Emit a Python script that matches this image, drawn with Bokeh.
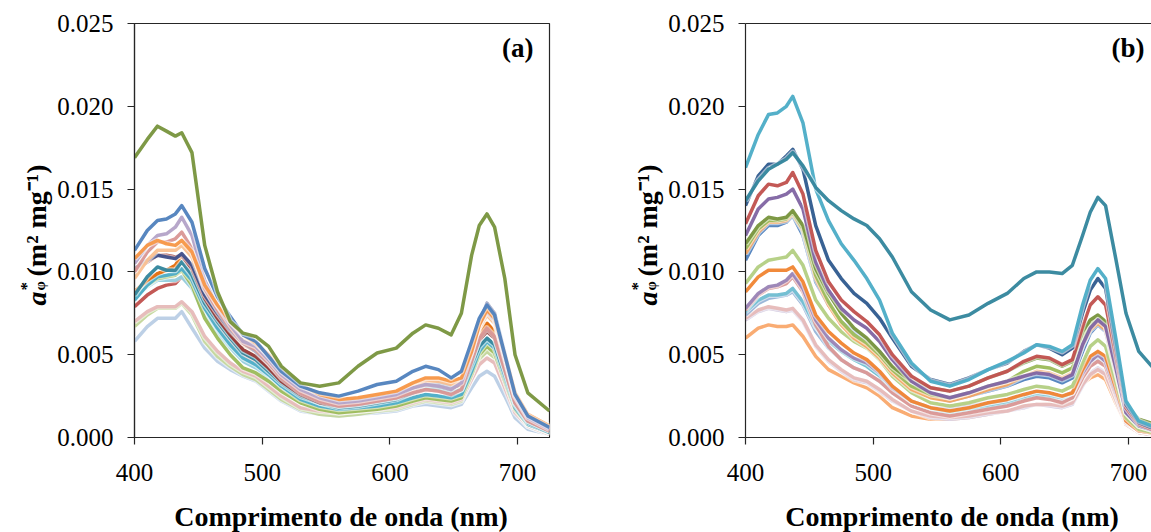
from math import pi
from bokeh.plotting import figure
from bokeh.layouts import row, column
from bokeh.models import Range1d, FixedTicker, PrintfTickFormatter, Label, LinearAxis
from bokeh.embed import file_html
from bokeh.resources import INLINE

# ---------------- data ----------------
wavelength = [400, 410, 418, 425, 432, 437, 445, 455, 465, 475, 485, 495, 505, 515, 530, 545,
              560, 575, 590, 605, 618, 628, 638, 648, 656, 664, 670, 676, 682, 690, 698, 708, 725]

x_ticks = [400, 500, 600, 700]
y_ticks = [0.0, 0.005, 0.010, 0.015, 0.020, 0.025]

# panel (a)
a_lavender = [.0058, .0067, .0072, .0072, .0072, .0076, .0066, .0054, .0046, .0041, .0037, .0034, .0028, .0022, .0016, .0014,
              .0013, .0014, .0015, .0016, .0019, .0020, .0019, .0018, .0020, .0030, .0037, .0040, .0037, .0025, .0012, .0005, .0002]
a_palegreen = [.0067, .0074, .0078, .0078, .0078, .0081, .0074, .0058, .0049, .0043, .0038, .0035, .0029, .0023, .0017, .0014,
               .0013, .0014, .0016, .0017, .0020, .0022, .0021, .0020, .0022, .0036, .0047, .0052, .0048, .0032, .0016, .0007, .0002]
a_pink = [.0070, .0076, .0079, .0079, .0079, .0082, .0076, .0061, .0052, .0045, .0040, .0037, .0031, .0025, .0018, .0016,
          .0015, .0016, .0017, .0018, .0021, .0023, .0022, .0021, .0023, .0035, .0044, .0048, .0045, .0030, .0015, .0007, .0002]
a_red = [.0079, .0086, .0090, .0092, .0093, .0097, .0091, .0077, .0067, .0058, .0050, .0046, .0039, .0032, .0024, .0020,
         .0017, .0018, .0020, .0022, .0026, .0029, .0028, .0026, .0028, .0044, .0058, .0065, .0060, .0040, .0020, .0009, .0004]
a_lightblue = [.0085, .0091, .0095, .0095, .0095, .0097, .0090, .0074, .0063, .0054, .0046, .0042, .0036, .0029, .0022, .0018,
               .0016, .0017, .0018, .0020, .0023, .0025, .0024, .0023, .0025, .0039, .0051, .0057, .0053, .0035, .0018, .0008, .0003]
a_green = [.0085, .0092, .0096, .0097, .0098, .0101, .0092, .0072, .0060, .0050, .0042, .0039, .0034, .0028, .0021, .0017,
           .0015, .0016, .0017, .0019, .0022, .0024, .0023, .0022, .0024, .0038, .0050, .0055, .0051, .0034, .0017, .0008, .0003]
a_aqua = [.0083, .0092, .0097, .0098, .0099, .0102, .0095, .0078, .0066, .0056, .0048, .0044, .0038, .0031, .0023, .0019,
          .0017, .0018, .0019, .0021, .0024, .0026, .0025, .0024, .0026, .0040, .0052, .0058, .0054, .0036, .0018, .0008, .0003]
a_darkorange = [.0088, .0095, .0099, .0101, .0104, .0110, .0103, .0086, .0074, .0064, .0056, .0052, .0045, .0037, .0028, .0023,
                .0020, .0021, .0023, .0025, .0029, .0032, .0031, .0029, .0031, .0047, .0061, .0069, .0064, .0044, .0023, .0011, .0005]
a_teal = [.0086, .0097, .0103, .0101, .0101, .0106, .0098, .0081, .0070, .0060, .0051, .0047, .0040, .0033, .0025, .0021,
          .0018, .0019, .0021, .0023, .0027, .0030, .0029, .0027, .0029, .0044, .0055, .0060, .0056, .0038, .0020, .0009, .0003]
a_darkred = [.0101, .0106, .0110, .0110, .0109, .0110, .0102, .0084, .0072, .0062, .0053, .0049, .0042, .0034, .0026, .0021,
             .0019, .0020, .0022, .0024, .0029, .0032, .0032, .0030, .0032, .0047, .0059, .0064, .0060, .0041, .0021, .0010, .0004]
a_navy = [.0102, .0107, .0110, .0109, .0108, .0111, .0104, .0086, .0075, .0065, .0057, .0052, .0045, .0037, .0028, .0023,
          .0020, .0021, .0023, .0025, .0030, .0033, .0033, .0031, .0034, .0052, .0070, .0081, .0075, .0051, .0027, .0013, .0006]
a_peach = [.0096, .0107, .0113, .0113, .0113, .0116, .0109, .0090, .0078, .0068, .0059, .0055, .0048, .0040, .0030, .0025,
           .0022, .0023, .0025, .0027, .0031, .0034, .0034, .0032, .0034, .0050, .0066, .0074, .0069, .0048, .0026, .0013, .0006]
a_rose = [.0100, .0112, .0118, .0118, .0120, .0124, .0114, .0090, .0077, .0066, .0057, .0053, .0045, .0036, .0027, .0022,
          .0019, .0020, .0022, .0024, .0027, .0029, .0028, .0026, .0029, .0046, .0060, .0066, .0061, .0041, .0021, .0010, .0004]
a_purple = [.0105, .0116, .0122, .0123, .0127, .0133, .0122, .0095, .0080, .0068, .0058, .0055, .0047, .0038, .0029, .0024,
            .0021, .0022, .0024, .0026, .0030, .0032, .0031, .0029, .0033, .0052, .0068, .0076, .0071, .0048, .0025, .0012, .0005]
a_orange = [.0108, .0116, .0119, .0117, .0116, .0119, .0112, .0092, .0080, .0070, .0062, .0057, .0050, .0042, .0032, .0026,
            .0023, .0024, .0026, .0028, .0033, .0036, .0036, .0034, .0036, .0052, .0068, .0077, .0072, .0050, .0027, .0014, .0007]
a_blue = [.0113, .0125, .0131, .0132, .0135, .0140, .0130, .0102, .0085, .0073, .0062, .0058, .0049, .0040, .0031, .0027,
          .0025, .0028, .0032, .0034, .0040, .0043, .0041, .0036, .0040, .0058, .0072, .0080, .0074, .0050, .0026, .0013, .0006]
a_olive = [.0169, .0180, .0188, .0185, .0182, .0184, .0172, .0116, .0088, .0070, .0063, .0061, .0055, .0043, .0033, .0031,
           .0033, .0043, .0051, .0054, .0063, .0068, .0066, .0062, .0075, .0110, .0128, .0135, .0127, .0096, .0050, .0027, .0016]

# panel (b)
b_lightorange = [.0060, .0066, .0068, .0067, .0067, .0068, .0061, .0049, .0041, .0037, .0033, .0030, .0025, .0018, .0013, .0011,
                 .0011, .0012, .0014, .0016, .0019, .0020, .0020, .0019, .0022, .0032, .0036, .0038, .0035, .0021, .0008, .0003, .0001]
b_lavender = [.0071, .0076, .0078, .0077, .0076, .0077, .0070, .0055, .0046, .0040, .0035, .0033, .0028, .0022, .0016, .0012,
              .0011, .0012, .0014, .0016, .0018, .0020, .0019, .0018, .0020, .0031, .0039, .0042, .0039, .0023, .0008, .0003, .0001]
b_pink = [.0072, .0077, .0079, .0078, .0077, .0078, .0071, .0056, .0047, .0041, .0036, .0034, .0029, .0023, .0016, .0013,
          .0012, .0013, .0015, .0016, .0019, .0020, .0020, .0019, .0021, .0032, .0038, .0041, .0038, .0023, .0008, .0003, .0001]
b_steel = [.0074, .0081, .0084, .0085, .0086, .0088, .0080, .0064, .0054, .0047, .0042, .0039, .0034, .0027, .0020, .0016,
           .0015, .0016, .0018, .0020, .0023, .0025, .0024, .0022, .0024, .0037, .0045, .0048, .0045, .0027, .0009, .0004, .0002]
b_lightblue = [.0076, .0083, .0086, .0086, .0087, .0090, .0082, .0067, .0058, .0052, .0047, .0043, .0037, .0029, .0021, .0017,
               .0015, .0017, .0019, .0021, .0024, .0026, .0025, .0024, .0026, .0040, .0047, .0051, .0047, .0029, .0010, .0004, .0002]
b_rose = [.0077, .0086, .0090, .0091, .0093, .0097, .0088, .0068, .0055, .0047, .0042, .0039, .0034, .0027, .0019, .0015,
          .0013, .0015, .0017, .0019, .0022, .0024, .0023, .0021, .0024, .0036, .0043, .0046, .0043, .0026, .0009, .0004, .0002]
b_lightpurple = [.0078, .0087, .0091, .0092, .0095, .0099, .0090, .0071, .0060, .0053, .0048, .0045, .0039, .0030, .0022, .0018,
                 .0017, .0019, .0021, .0023, .0026, .0028, .0027, .0025, .0027, .0039, .0046, .0050, .0046, .0028, .0010, .0004, .0002]
b_orange = [.0088, .0097, .0101, .0101, .0101, .0103, .0094, .0074, .0064, .0057, .0051, .0047, .0040, .0031, .0022, .0018,
            .0016, .0018, .0021, .0023, .0026, .0028, .0027, .0025, .0027, .0041, .0049, .0052, .0049, .0030, .0010, .0004, .0002]
b_lightgreen = [.0093, .0103, .0107, .0108, .0109, .0113, .0104, .0083, .0072, .0064, .0058, .0054, .0047, .0037, .0027, .0021,
                .0019, .0021, .0024, .0026, .0029, .0031, .0030, .0028, .0031, .0045, .0055, .0059, .0055, .0034, .0012, .0005, .0002]
b_blue = [.0107, .0122, .0128, .0128, .0130, .0134, .0122, .0094, .0080, .0070, .0064, .0059, .0052, .0042, .0031, .0025,
          .0022, .0025, .0028, .0031, .0035, .0037, .0036, .0033, .0036, .0052, .0063, .0068, .0064, .0040, .0015, .0007, .0003]
b_amber = [.0111, .0124, .0130, .0130, .0131, .0135, .0125, .0096, .0080, .0068, .0060, .0055, .0048, .0039, .0029, .0024,
           .0022, .0025, .0029, .0032, .0037, .0040, .0039, .0036, .0039, .0056, .0065, .0069, .0065, .0041, .0016, .0008, .0004]
b_green = [.0114, .0126, .0131, .0131, .0132, .0136, .0126, .0098, .0082, .0070, .0062, .0057, .0050, .0041, .0031, .0026,
           .0024, .0027, .0031, .0034, .0040, .0043, .0042, .0039, .0042, .0060, .0068, .0072, .0068, .0044, .0018, .0009, .0005]
b_olive = [.0117, .0128, .0133, .0132, .0133, .0137, .0128, .0102, .0087, .0075, .0066, .0060, .0052, .0043, .0034, .0030,
           .0028, .0031, .0036, .0040, .0045, .0048, .0047, .0043, .0046, .0064, .0071, .0074, .0070, .0047, .0020, .0011, .0007]
b_purple = [.0122, .0138, .0144, .0145, .0147, .0150, .0138, .0106, .0089, .0078, .0071, .0066, .0058, .0047, .0034, .0027,
            .0024, .0027, .0031, .0034, .0037, .0039, .0038, .0035, .0038, .0056, .0066, .0071, .0067, .0042, .0015, .0007, .0003]
b_red = [.0129, .0146, .0153, .0152, .0154, .0160, .0147, .0113, .0094, .0083, .0076, .0070, .0062, .0050, .0037, .0030,
         .0028, .0031, .0036, .0040, .0046, .0049, .0048, .0044, .0047, .0067, .0080, .0085, .0080, .0050, .0018, .0008, .0003]
b_navy = [.0140, .0158, .0165, .0165, .0170, .0174, .0162, .0128, .0107, .0096, .0087, .0081, .0072, .0060, .0043, .0035,
          .0032, .0036, .0041, .0045, .0052, .0056, .0054, .0050, .0054, .0075, .0089, .0096, .0090, .0055, .0020, .0009, .0004]
b_aqua = [.0163, .0183, .0195, .0196, .0200, .0206, .0190, .0150, .0131, .0117, .0107, .0096, .0083, .0063, .0045, .0034,
          .0031, .0035, .0041, .0046, .0051, .0056, .0055, .0052, .0056, .0080, .0095, .0102, .0096, .0060, .0022, .0010, .0005]
b_teal = [.0143, .0155, .0162, .0165, .0168, .0172, .0164, .0151, .0143, .0137, .0132, .0128, .0120, .0109, .0088, .0077,
          .0071, .0074, .0081, .0087, .0096, .0100, .0100, .0099, .0104, .0122, .0136, .0145, .0140, .0108, .0075, .0052, .0037]

panel_a = [a_lavender, a_palegreen, a_pink, a_red, a_lightblue, a_green, a_aqua, a_darkorange, a_teal,
           a_darkred, a_navy, a_peach, a_rose, a_purple, a_orange, a_blue, a_olive]
panel_b = [b_lightorange, b_lavender, b_pink, b_steel, b_lightblue, b_rose, b_lightpurple, b_orange,
           b_lightgreen, b_blue, b_amber, b_green, b_olive, b_purple, b_red, b_navy, b_aqua, b_teal]

# ---------------- styles ----------------
colors_a = ["#B9CDE5", "#C3D69B", "#E6B9B8", "#C0504D", "#93CDDD", "#9BBB59", "#4BACC6", "#E46C0A", "#31859C",
            "#953735", "#3F4F8A", "#FAC090", "#D99694", "#B3A2C7", "#F79646", "#4F81BD", "#77933C"]
colors_b = ["#F9A86B", "#CCC1DA", "#E6B9B8", "#95B3D7", "#6FBDD1", "#D99694", "#9983B5", "#F08430",
            "#B3CF82", "#4F81BD", "#F4A460", "#9BBB59", "#77933C", "#8064A2", "#C0504D", "#2E5A8E", "#4BACC6", "#31859C"]

FONT = "Liberation Serif"
AXIS_COLOR = "#262626"

# ---------------- layout geometry (page pixels) ----------------
ROW_H = 500          # row with the panels
STRIP_H = 32         # strip below with the x titles
YT_W = 54            # strip holding a rotated y title
BORDER_L = 78
BORDER_TOP = 23
FRAME_H = 414
BORDER_BOTTOM = ROW_H - BORDER_TOP - FRAME_H
FRAME_W = 417
A_BORDER_R = 62
B_FRAME_W = 408
PX_PER_NM = FRAME_W / 325.0
Y_MAX = 0.025
X_START = 400


def page_y(py):
    return Y_MAX * (BORDER_TOP + FRAME_H - py) / FRAME_H


def blank(width, height, x_end, y_range, top, bottom):
    f = figure(width=width, height=height, x_range=Range1d(0, x_end), y_range=y_range,
               output_backend="svg", toolbar_location=None, title=None,
               x_axis_type=None, y_axis_type=None,
               min_border_left=0, min_border_right=0, min_border_top=top, min_border_bottom=bottom,
               background_fill_color="white", border_fill_color="white")
    f.grid.visible = False
    f.outline_line_color = None
    return f


def make_panel(series, colors, x_end, frame_w, border_right, tag):
    p = figure(width=BORDER_L + frame_w + border_right, height=ROW_H,
               x_range=Range1d(X_START, x_end), y_range=Range1d(0, Y_MAX),
               output_backend="svg", toolbar_location=None, title=None,
               min_border_left=BORDER_L, min_border_right=border_right,
               min_border_top=BORDER_TOP, min_border_bottom=BORDER_BOTTOM,
               background_fill_color="white", border_fill_color="white")
    p.grid.visible = False
    for ax in (p.xaxis[0], p.yaxis[0]):
        ax.axis_line_color = AXIS_COLOR
        ax.axis_line_width = 1.2
        ax.major_tick_line_color = AXIS_COLOR
        ax.major_tick_line_width = 1.2
        ax.major_tick_in = 0
        ax.major_tick_out = 7
        ax.minor_tick_line_color = None
        ax.major_label_text_font = FONT
        ax.major_label_text_font_size = "25px"
        ax.major_label_text_color = "black"
    p.xaxis.ticker = FixedTicker(ticks=x_ticks)
    p.yaxis.ticker = FixedTicker(ticks=y_ticks)
    p.yaxis.formatter = PrintfTickFormatter(format="%.3f")
    p.yaxis.major_label_standoff = 14
    p.xaxis.major_label_standoff = 19

    if border_right > 0:
        p.outline_line_color = AXIS_COLOR
        p.outline_line_width = 1.2
    else:
        p.outline_line_color = None
        top = LinearAxis(ticker=FixedTicker(ticks=[]), major_label_text_font_size="0px",
                         axis_line_color=AXIS_COLOR, axis_line_width=1.2,
                         major_tick_line_color=None, minor_tick_line_color=None,
                         major_tick_out=0, major_tick_in=0, major_label_standoff=0)
        p.add_layout(top, "above")

    for ys, c in zip(series, colors):
        p.line(wavelength, ys, line_color="white", line_width=6, line_alpha=0.55, line_join="round")
        p.line(wavelength, ys, line_color=c, line_width=3.5, line_alpha=0.95, line_join="round")

    p.add_layout(Label(x=725, y=Y_MAX, x_offset=-16, y_offset=-24, text=tag, text_align="right",
                       text_baseline="middle", text_font=FONT, text_font_size="27px",
                       text_font_style="bold", text_color="black"))
    return p


def make_ytitle():
    # narrow plot whose frame shares the panels' vertical extent; y in the panels' data units
    t = blank(YT_W, ROW_H, YT_W, Range1d(0, Y_MAX), BORDER_TOP, BORDER_BOTTOM)
    # (text, page y where the piece starts, x of its baseline, size, style)
    pieces = [
        ("a", 305, 36, 28, "bold italic"),
        ("*", 290, 26, 17, "bold"),
        ("\u03c6", 290, 39, 15, "bold"),
        ("(m\u00b2 mg\u207b\u00b9)", 276, 36, 28, "bold"),
    ]
    for txt, py, bx, size, style in pieces:
        t.add_layout(Label(x=bx, y=page_y(py), text=txt, angle=pi / 2,
                           text_align="left", text_baseline="alphabetic", text_font=FONT,
                           text_font_size=f"{size}px", text_font_style=style, text_color="black"))
    return t


ta = make_ytitle()
pa = make_panel(panel_a, colors_a, 725, FRAME_W, A_BORDER_R, "(a)")
tb = make_ytitle()
pb = make_panel(panel_b, colors_b, X_START + B_FRAME_W / PX_PER_NM, B_FRAME_W, 0, "(b)")

total_w = 2 * YT_W + (BORDER_L + FRAME_W + A_BORDER_R) + (BORDER_L + B_FRAME_W)
xt = blank(total_w, STRIP_H, total_w, Range1d(0, STRIP_H), 0, 0)
frame_a_left = YT_W + BORDER_L
frame_b_left = frame_a_left + FRAME_W + A_BORDER_R + YT_W + BORDER_L
for cx in (frame_a_left + FRAME_W / 2, frame_b_left + FRAME_W / 2):
    xt.add_layout(Label(x=cx, y=16.5, text="Comprimento de onda (nm)", text_align="center",
                        text_baseline="middle", text_font=FONT, text_font_size="28px",
                        text_font_style="bold", text_color="black"))

layout = column(row(ta, pa, tb, pb, spacing=0), xt, spacing=0)
open("out.html", "w").write(file_html(layout, INLINE))
